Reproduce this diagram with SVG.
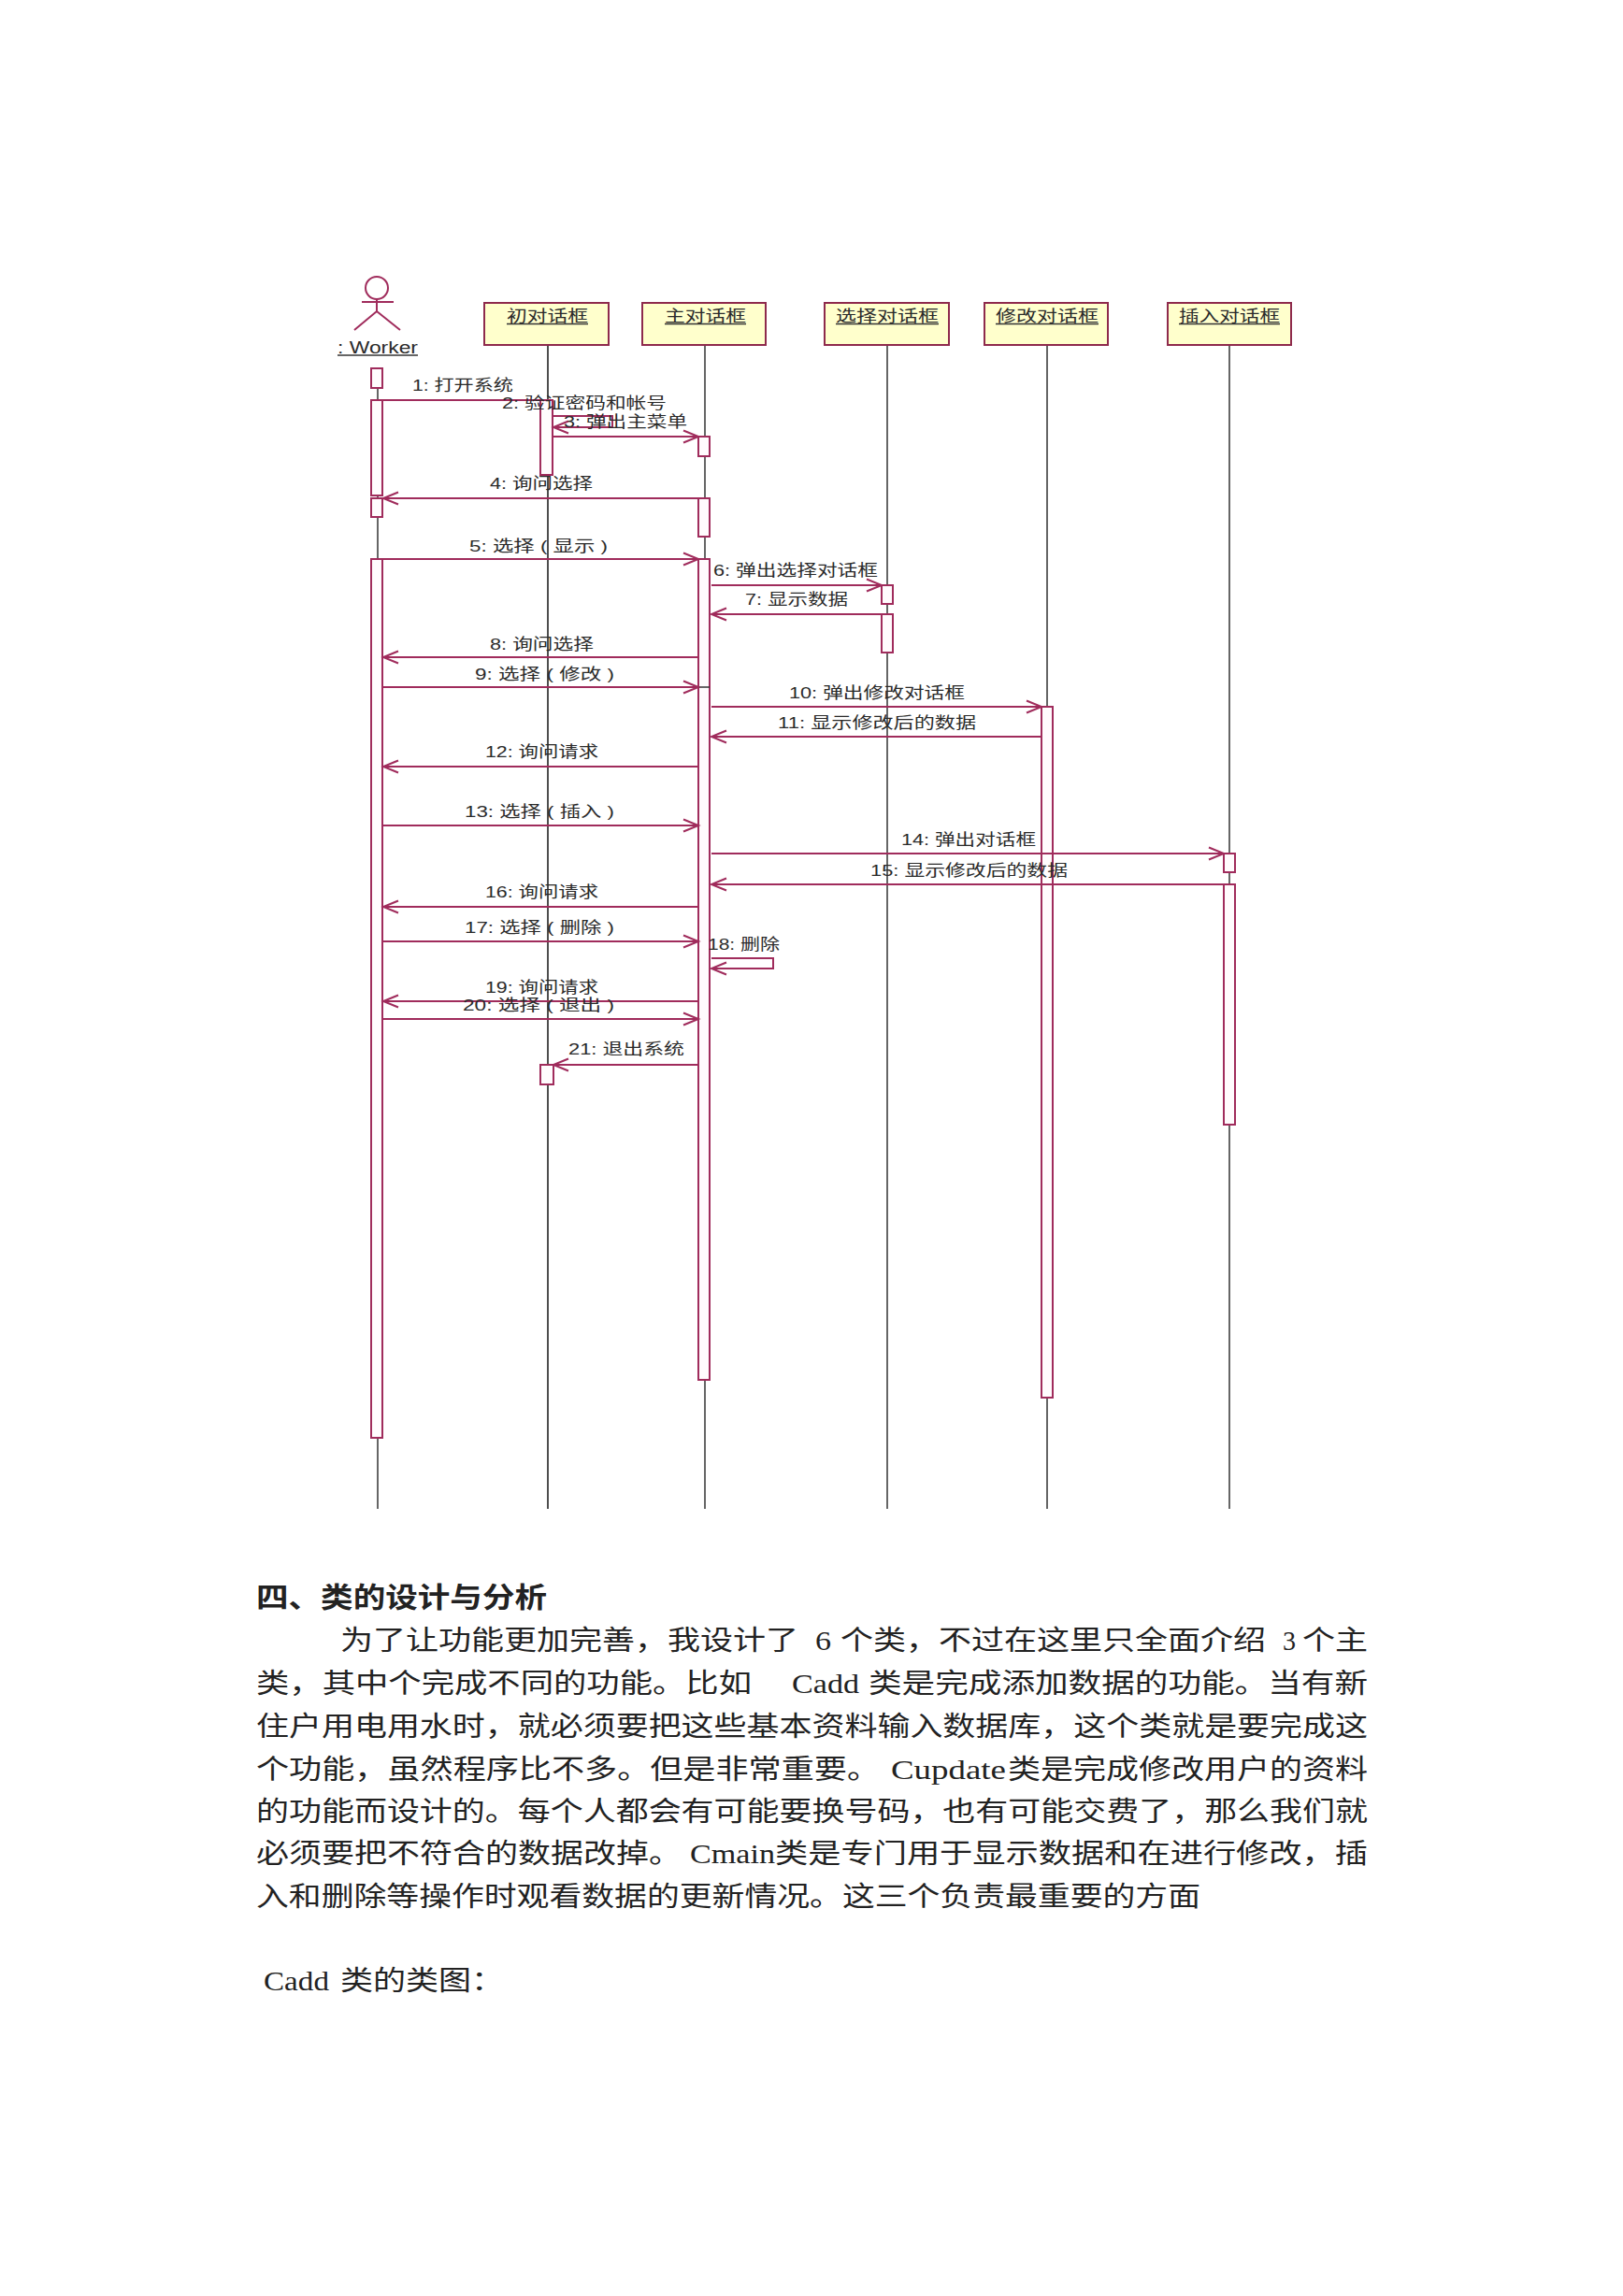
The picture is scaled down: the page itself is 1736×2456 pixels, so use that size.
<svg xmlns="http://www.w3.org/2000/svg" width="1736" height="2456" viewBox="0 0 1736 2456">
<style>
.box{fill:#ffffcc;stroke:#8e2a4c;stroke-width:2}
.act{fill:#fffbfd;stroke:#a02c5c;stroke-width:2}
.life{stroke:#666;stroke-width:2;fill:none}
.dark{stroke:#222;stroke-width:1.6}
.ul{stroke:#333;stroke-width:1.5}
.shape{fill:none;stroke:#a02c5c;stroke-width:2}
.msg{fill:none;stroke:#a02c5c;stroke-width:2}
.arr{marker-end:url(#open)}
.lb{font-family:"Liberation Sans","Noto Sans CJK SC",sans-serif;font-size:16.5px;fill:#2a2a2a}
.wk{font-size:18px}
.p{font-family:"Liberation Serif","Noto Sans CJK SC",serif;font-size:29px;fill:#222}
.t{font-family:"Noto Sans CJK SC",sans-serif;font-size:30px;font-weight:700;fill:#222}
</style>
<defs>
<marker id="open" markerUnits="userSpaceOnUse" markerWidth="20" markerHeight="16" refX="17" refY="8" orient="auto">
<path d="M1 1.5L17 8L1 14.5" fill="none" stroke="#a02c5c" stroke-width="2"/>
</marker>
</defs>
<rect width="1736" height="2456" fill="#fff"/>

<g id="worker">
<line class="life" x1="404" y1="394" x2="404" y2="1614"/>
<circle class="shape" cx="403" cy="308" r="12"/>
<path class="shape" d="M403 320V333M387 323H421M379 353L403 333L428 353"/>
<text class="lb wk" x="361" y="378" textLength="86" lengthAdjust="spacingAndGlyphs">: Worker</text>
<line class="ul" x1="361" y1="380" x2="447" y2="380"/>
<rect class="act" x="397" y="394" width="12" height="21"/>
<rect class="act" x="397" y="428" width="12" height="102"/>
<rect class="act" x="397" y="533" width="12" height="20"/>
<rect class="act" x="397" y="598" width="12" height="940"/>
</g>

<g id="init-dialog">
<line class="life dark" x1="586" y1="369" x2="586" y2="1614"/>
<rect class="box" x="518" y="324" width="133" height="45"/>
<text class="lb" x="542" y="344" textLength="87" lengthAdjust="spacingAndGlyphs">初对话框</text>
<line class="ul" x1="542" y1="346.5" x2="629" y2="346.5"/>
<rect class="act" x="578" y="428" width="13" height="80"/>
<rect class="act" x="578" y="1139" width="14" height="21"/>
</g>

<g id="main-dialog">
<line class="life" x1="754" y1="369" x2="754" y2="1614"/>
<rect class="box" x="687" y="324" width="132" height="45"/>
<text class="lb" x="711" y="344" textLength="87" lengthAdjust="spacingAndGlyphs">主对话框</text>
<line class="ul" x1="711" y1="346.5" x2="798" y2="346.5"/>
<rect class="act" x="747" y="467" width="12" height="21"/>
<rect class="act" x="747" y="533" width="12" height="41"/>
<rect class="act" x="747" y="598" width="12" height="878"/>
</g>

<g id="select-dialog">
<line class="life" x1="949" y1="369" x2="949" y2="1614"/>
<rect class="box" x="882" y="324" width="133" height="45"/>
<text class="lb" x="894" y="344" textLength="110" lengthAdjust="spacingAndGlyphs">选择对话框</text>
<line class="ul" x1="894" y1="346.5" x2="1004" y2="346.5"/>
<rect class="act" x="943" y="626" width="12" height="20"/>
<rect class="act" x="943" y="657" width="12" height="41"/>
</g>

<g id="update-dialog">
<line class="life" x1="1120" y1="369" x2="1120" y2="1614"/>
<rect class="box" x="1053" y="324" width="132" height="45"/>
<text class="lb" x="1065" y="344" textLength="110" lengthAdjust="spacingAndGlyphs">修改对话框</text>
<line class="ul" x1="1065" y1="346.5" x2="1175" y2="346.5"/>
<rect class="act" x="1114" y="756" width="12" height="739"/>
</g>

<g id="insert-dialog">
<line class="life" x1="1315" y1="369" x2="1315" y2="1614"/>
<rect class="box" x="1249" y="324" width="132" height="45"/>
<text class="lb" x="1261" y="344" textLength="108" lengthAdjust="spacingAndGlyphs">插入对话框</text>
<line class="ul" x1="1261" y1="346.5" x2="1369" y2="346.5"/>
<rect class="act" x="1309" y="913" width="12" height="20"/>
<rect class="act" x="1309" y="946" width="12" height="257"/>
</g>

<g id="connectors">
<path class="msg" d="M409 428H578"/>
<path class="msg arr" d="M591 445H655V457H592"/>
<path class="msg arr" d="M591 467H747"/>
<path class="msg arr" d="M747 533H410"/>
<path class="msg arr" d="M410 598H747"/>
<path class="msg arr" d="M761 626H943"/>
<path class="msg arr" d="M943 657H761"/>
<path class="msg arr" d="M747 703H410"/>
<line x1="745" y1="735" x2="759" y2="735" stroke="#333" stroke-width="1.5"/>
<path class="msg arr" d="M410 735H747"/>
<path class="msg arr" d="M761 756H1114"/>
<path class="msg arr" d="M1114 788H761"/>
<path class="msg arr" d="M747 820H410"/>
<path class="msg arr" d="M410 883H747"/>
<path class="msg arr" d="M761 913H1309"/>
<path class="msg arr" d="M1309 946H761"/>
<path class="msg arr" d="M747 970H410"/>
<path class="msg arr" d="M410 1007H747"/>
<path class="msg arr" d="M761 1025H827V1036H761"/>
<path class="msg arr" d="M747 1071H410"/>
<path class="msg arr" d="M410 1090H747"/>
<path class="msg arr" d="M747 1139H592"/>
<g>
<text class="lb" x="441" y="418" textLength="108" lengthAdjust="spacingAndGlyphs">1: 打开系统</text>
<text class="lb" x="537" y="437" textLength="176" lengthAdjust="spacingAndGlyphs">2: 验证密码和帐号</text>
<text class="lb" x="603" y="457" textLength="132" lengthAdjust="spacingAndGlyphs">3: 弹出主菜单</text>
<text class="lb" x="524" y="523" textLength="110" lengthAdjust="spacingAndGlyphs">4: 询问选择</text>
<text class="lb" x="502" y="590" textLength="148" lengthAdjust="spacingAndGlyphs">5: 选择 ( 显示 )</text>
<text class="lb" x="763" y="616" textLength="176" lengthAdjust="spacingAndGlyphs">6: 弹出选择对话框</text>
<text class="lb" x="797" y="647" textLength="110" lengthAdjust="spacingAndGlyphs">7: 显示数据</text>
<text class="lb" x="524" y="695" textLength="111" lengthAdjust="spacingAndGlyphs">8: 询问选择</text>
<text class="lb" x="508" y="727" textLength="149" lengthAdjust="spacingAndGlyphs">9: 选择 ( 修改 )</text>
<text class="lb" x="844" y="747" textLength="188" lengthAdjust="spacingAndGlyphs">10: 弹出修改对话框</text>
<text class="lb" x="832" y="779" textLength="212" lengthAdjust="spacingAndGlyphs">11: 显示修改后的数据</text>
<text class="lb" x="519" y="810" textLength="121" lengthAdjust="spacingAndGlyphs">12: 询问请求</text>
<text class="lb" x="497" y="874" textLength="160" lengthAdjust="spacingAndGlyphs">13: 选择 ( 插入 )</text>
<text class="lb" x="964" y="904" textLength="144" lengthAdjust="spacingAndGlyphs">14: 弹出对话框</text>
<text class="lb" x="931" y="937" textLength="211" lengthAdjust="spacingAndGlyphs">15: 显示修改后的数据</text>
<text class="lb" x="519" y="960" textLength="121" lengthAdjust="spacingAndGlyphs">16: 询问请求</text>
<text class="lb" x="497" y="998" textLength="160" lengthAdjust="spacingAndGlyphs">17: 选择 ( 删除 )</text>
<text class="lb" x="757" y="1016" textLength="77" lengthAdjust="spacingAndGlyphs">18: 删除</text>
<text class="lb" x="519" y="1062" textLength="121" lengthAdjust="spacingAndGlyphs">19: 询问请求</text>
<text class="lb" x="495" y="1081" textLength="162" lengthAdjust="spacingAndGlyphs">20: 选择 ( 退出 )</text>
<text class="lb" x="608" y="1128" textLength="124" lengthAdjust="spacingAndGlyphs">21: 退出系统</text>
</g>
</g>

<text class="t" x="274" y="1719" textLength="311" lengthAdjust="spacingAndGlyphs">四、类的设计与分析</text>
<text class="p" y="1765" lengthAdjust="spacingAndGlyphs"><tspan x="364" textLength="490" lengthAdjust="spacingAndGlyphs">为了让功能更加完善，我设计了</tspan><tspan x="872" textLength="17" lengthAdjust="spacingAndGlyphs">6</tspan><tspan x="899" textLength="455" lengthAdjust="spacingAndGlyphs">个类，不过在这里只全面介绍</tspan><tspan x="1372" textLength="14" lengthAdjust="spacingAndGlyphs">3</tspan><tspan x="1393" textLength="70" lengthAdjust="spacingAndGlyphs">个主</tspan></text>
<text class="p" y="1811"><tspan x="274" textLength="530" lengthAdjust="spacingAndGlyphs">类，其中个完成不同的功能。比如</tspan><tspan x="847" textLength="72" lengthAdjust="spacingAndGlyphs">Cadd</tspan><tspan x="929" textLength="534" lengthAdjust="spacingAndGlyphs">类是完成添加数据的功能。当有新</tspan></text>
<text class="p" x="274" y="1857" textLength="1189" lengthAdjust="spacingAndGlyphs">住户用电用水时，就必须要把这些基本资料输入数据库，这个类就是要完成这</text>
<text class="p" y="1903"><tspan x="274" textLength="667" lengthAdjust="spacingAndGlyphs">个功能，虽然程序比不多。但是非常重要。</tspan><tspan x="953" textLength="123" lengthAdjust="spacingAndGlyphs">Cupdate</tspan><tspan x="1078" textLength="385" lengthAdjust="spacingAndGlyphs">类是完成修改用户的资料</tspan></text>
<text class="p" x="274" y="1948" textLength="1189" lengthAdjust="spacingAndGlyphs">的功能而设计的。每个人都会有可能要换号码，也有可能交费了，那么我们就</text>
<text class="p" y="1993"><tspan x="274" textLength="455" lengthAdjust="spacingAndGlyphs">必须要把不符合的数据改掉。</tspan><tspan x="738" textLength="91" lengthAdjust="spacingAndGlyphs">Cmain</tspan><tspan x="829" textLength="634" lengthAdjust="spacingAndGlyphs">类是专门用于显示数据和在进行修改，插</tspan></text>
<text class="p" x="274" y="2039" textLength="1010" lengthAdjust="spacingAndGlyphs">入和删除等操作时观看数据的更新情况。这三个负责最重要的方面</text>
<text class="p" y="2129"><tspan x="282" textLength="70" lengthAdjust="spacingAndGlyphs">Cadd</tspan><tspan x="364" textLength="175" lengthAdjust="spacingAndGlyphs">类的类图：</tspan></text>
</svg>
